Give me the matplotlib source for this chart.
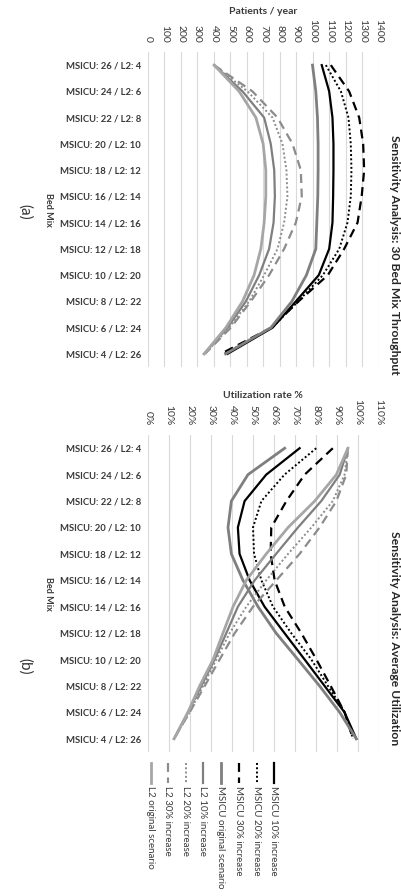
import numpy as np
import matplotlib
matplotlib.use('Agg')
import matplotlib.pyplot as plt
from matplotlib.lines import Line2D

plt.rcParams['font.family'] = ['Lato', 'DejaVu Sans']

# bed mix categories (top to bottom)
bed_mix = ['MSICU: 26 / L2: 4', 'MSICU: 24 / L2: 6', 'MSICU: 22 / L2: 8',
           'MSICU: 20 / L2: 10', 'MSICU: 18 / L2: 12', 'MSICU: 16 / L2: 14',
           'MSICU: 14 / L2: 16', 'MSICU: 12 / L2: 18', 'MSICU: 10 / L2: 20',
           'MSICU: 8 / L2: 22', 'MSICU: 6 / L2: 24', 'MSICU: 4 / L2: 26']

# (a) throughput, patients / year
tp_msicu_10 = [1053, 1098, 1118, 1124, 1124, 1122, 1118, 1098, 1035, 896, 755, 482]
tp_msicu_20 = [1078, 1169, 1215, 1229, 1233, 1229, 1209, 1159, 1060, 910, 752, 462]
tp_msicu_30 = [1108, 1219, 1280, 1304, 1310, 1295, 1270, 1189, 1090, 912, 748, 441]
tp_msicu_orig = [997, 1017, 1027, 1031, 1031, 1029, 1023, 1017, 960, 872, 745, 470]
tp_l2_10 = [401, 573, 704, 744, 765, 769, 761, 734, 674, 593, 482, 340]
tp_l2_20 = [401, 603, 755, 815, 839, 845, 825, 785, 704, 613, 492, 345]
tp_l2_30 = [401, 633, 785, 876, 926, 932, 896, 825, 734, 623, 502, 345]
tp_l2_orig = [401, 552, 654, 698, 714, 714, 704, 684, 643, 573, 472, 340]

# (b) average utilization, %
ut_msicu_10 = [72.2, 56.3, 46.0, 42.8, 43.6, 48.4, 55.5, 65.0, 74.6, 84.1, 93.6, 99.2]
ut_msicu_20 = [80.1, 65.0, 54.0, 50.0, 50.5, 54.0, 59.5, 68.2, 77.8, 85.7, 93.8, 97.6]
ut_msicu_30 = [88.0, 74.6, 65.9, 58.7, 58.4, 60.3, 65.1, 73.0, 80.2, 87.0, 93.6, 97.6]
ut_msicu_orig = [65.1, 47.6, 39.7, 38.1, 39.7, 45.2, 52.4, 61.0, 71.4, 81.7, 91.3, 99.2]
ut_l2_10 = [95.2, 91.3, 82.5, 71.4, 61.0, 50.8, 42.8, 37.3, 31.7, 25.4, 19.0, 12.4]
ut_l2_20 = [95.2, 93.6, 88.0, 77.8, 66.7, 56.3, 46.8, 38.9, 32.5, 26.2, 19.8, 12.4]
ut_l2_30 = [95.2, 94.4, 89.7, 81.7, 72.2, 61.1, 50.0, 41.3, 34.1, 27.0, 19.8, 12.4]
ut_l2_orig = [95.2, 89.7, 79.4, 66.7, 56.3, 46.8, 40.5, 35.7, 31.0, 24.6, 19.0, 12.4]

labels = ['MSICU 10% increase', 'MSICU 20% increase', 'MSICU 30% increase',
          'MSICU original scenario', 'L2 10% increase', 'L2 20% increase',
          'L2 30% increase', 'L2 original scenario']
styles = [
    dict(color='#000000', lw=1.6, ls='-'),
    dict(color='#000000', lw=1.4, ls=(0, (1, 1.2))),
    dict(color='#000000', lw=1.6, ls=(0, (4, 2.5))),
    dict(color='#7f7f7f', lw=2.0, ls='-'),
    dict(color='#7f7f7f', lw=1.6, ls='-'),
    dict(color='#8c8c8c', lw=1.4, ls=(0, (1, 1.2))),
    dict(color='#8c8c8c', lw=1.6, ls=(0, (4, 2.5))),
    dict(color='#a6a6a6', lw=2.0, ls='-'),
]
tp_series = [tp_msicu_10, tp_msicu_20, tp_msicu_30, tp_msicu_orig,
             tp_l2_10, tp_l2_20, tp_l2_30, tp_l2_orig]
ut_series = [ut_msicu_10, ut_msicu_20, ut_msicu_30, ut_msicu_orig,
             ut_l2_10, ut_l2_20, ut_l2_30, ut_l2_orig]

txt = '#3a3a3a'
W, H = 402, 896
fig = plt.figure(figsize=(W / 100, H / 100), dpi=100)


def fx(px):
    return px / W


def fy(py):
    return 1 - py / H


def setup(ax, xmax, step, fmt):
    y = np.arange(len(bed_mix))
    ax.set_ylim(len(bed_mix) - 0.5, -0.5)
    ax.set_yticks(y)
    ax.set_yticklabels(bed_mix, fontsize=6.8, fontweight='bold', color=txt)
    ax.set_xlim(0, xmax)
    ticks = np.arange(0, xmax + step / 2, step)
    ax.set_xticks(ticks)
    ax.set_xticklabels([fmt(t) for t in ticks])
    ax.xaxis.tick_top()
    ax.tick_params(axis='x', length=0, pad=7, labelrotation=-90, labelsize=7.5, labelcolor=txt)
    ax.tick_params(axis='y', length=0, pad=5)
    ax.grid(axis='x', color='#d9d9d9', lw=0.8)
    for s in ax.spines.values():
        s.set_visible(False)


# (a) throughput
ax1 = fig.add_axes([fx(148), fy(367), fx(231), (367 - 52) / H])
for vals, st in zip(tp_series, styles):
    ax1.plot(vals, np.arange(len(bed_mix)), **st)
setup(ax1, 1400, 100, lambda t: '%d' % t)

# (b) utilization
ax2 = fig.add_axes([fx(148), fy(752), fx(231), (752 - 435) / H])
for vals, st in zip(ut_series, styles):
    ax2.plot(vals, np.arange(len(bed_mix)), **st)
setup(ax2, 110, 10, lambda t: '%d%%' % t)

# axis titles
fig.text(fx(263), fy(12), 'Patients / year', ha='center', va='center',
         fontsize=7.5, fontweight='bold', color=txt)
fig.text(fx(263), fy(395), 'Utilization rate %', ha='center', va='center',
         fontsize=7.5, fontweight='bold', color=txt)
fig.text(fx(48), fy(210), 'Bed Mix', rotation=-90, ha='center', va='center',
         fontsize=6.5, fontweight='bold', color=txt)
fig.text(fx(48), fy(594), 'Bed Mix', rotation=-90, ha='center', va='center',
         fontsize=6.5, fontweight='bold', color=txt)

# chart titles and panel letters
fig.text(fx(395), fy(255), 'Sensitivity Analysis: 30 Bed Mix Throughput', rotation=-90,
         ha='center', va='center', fontsize=8.7, fontweight='bold', color='#262626')
fig.text(fx(395), fy(638), 'Sensitivity Analysis: Average Utilization', rotation=-90,
         ha='center', va='center', fontsize=8.7, fontweight='bold', color='#262626')
fig.text(fx(25), fy(212), '(a)', rotation=-90, ha='center', va='center', fontsize=11, color='#333333')
fig.text(fx(25), fy(666), '(b)', rotation=-90, ha='center', va='center', fontsize=11, color='#333333')

# legend for (b), drawn as vertical entries
leg_x = [274, 257, 239, 221, 203, 186, 168, 151]
for x, lab, st in zip(leg_x, labels, styles):
    fig.add_artist(Line2D([fx(x), fx(x)], [fy(763), fy(783)], transform=fig.transFigure, **st))
    fig.text(fx(x), fy(786), lab, rotation=-90, ha='center', va='top', fontsize=7, color=txt)

fig.savefig('out.png', dpi=100)
